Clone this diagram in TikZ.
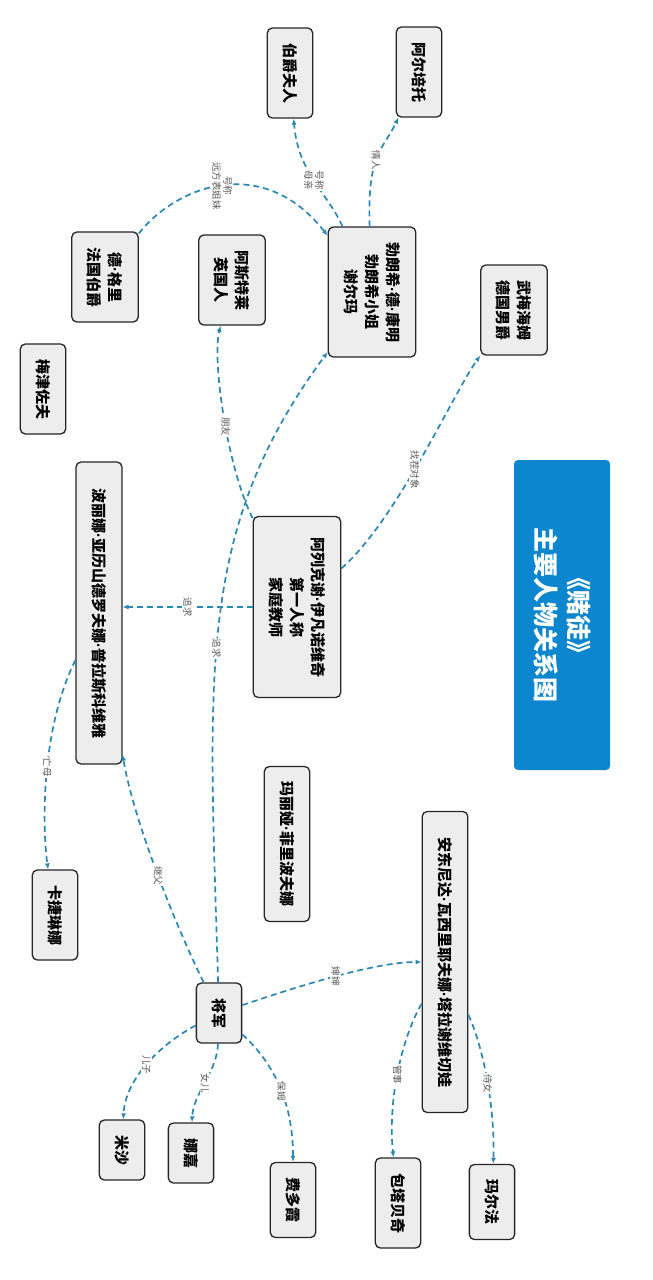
\documentclass[tikz,border=0pt]{standalone}
\usepackage{fontspec}
\newfontfamily\cjk{Noto Sans CJK SC}
\newfontfamily\latin{Liberation Sans}
\newcommand\dt{{\latin\bfseries ·}}
\usetikzlibrary{arrows.meta}
\definecolor{linkblue}{HTML}{2A88B6}
\definecolor{titleblue}{HTML}{0B86CF}
\definecolor{boxgray}{HTML}{EDEDED}

\begin{document}
\begin{tikzpicture}[x=1pt,y=-1pt,
  person/.style={draw=black!85,line width=1.3pt,fill=boxgray,rounded corners=5pt,rotate=-90,align=center,
    inner xsep=15pt,inner ysep=15.5pt,font=\cjk\bfseries\fontsize{15}{21}\selectfont},
  rel/.style={draw=linkblue,line width=1.7pt,dash pattern=on 6pt off 4pt,-{Latex[length=6pt,width=5pt]}},
  lbl/.style={rotate=-90,fill=white,inner sep=1pt,text=black!65,align=center,
    font=\cjk\fontsize{9.5}{11}\selectfont}]
\fill[white] (0,0) rectangle (653,1280);
\useasboundingbox (0,0) rectangle (653,1280);

\node[person] (countess) at (290,73) {伯爵夫人};
\node[person] (alberto) at (419,72) {阿尔培托};
\node[person] (blanche) at (372,292) {勃朗希\dt 德\dt 康明\\勃朗希小姐\\谢尔玛};
\node[person] (astley) at (232,280) {阿斯特莱\\英国人};
\node[person] (degrieux) at (105,277) {德\dt 格里\\法国伯爵};
\node[person] (mezentsov) at (43,389) {梅津佐夫};
\node[person] (baron) at (514,310) {武梅海姆\\德国男爵};
\node[person,minimum width=181pt] (alexei) at (297,607) {阿列克谢\dt 伊凡诺维奇\\第一人称\\家庭教师};
\node[person,minimum width=302pt] (polina) at (99,613) {波丽娜\dt 亚历山德罗夫娜\dt 普拉斯科维雅};
\node[person] (katerina) at (55,915) {卡捷琳娜};
\node[person] (maria) at (287,844) {玛丽娅\dt 菲里波夫娜};
\node[person,minimum width=301pt] (antonida) at (445,962) {安东尼达\dt 瓦西里耶夫娜\dt 塔拉谢维切娃};
\node[person] (general) at (219,1013) {将军};
\node[person] (misha) at (122,1150) {米沙};
\node[person] (nadya) at (191,1153) {娜嘉};
\node[person] (fedosya) at (293,1200) {费多霞};
\node[person] (bautabei) at (398,1203) {包塔贝奇};
\node[person] (marfa) at (492,1202) {玛尔法};

\node[rotate=-90,fill=titleblue,rounded corners=4pt,minimum width=310pt,minimum height=96pt,align=center,
  text=white,font=\cjk\bfseries\fontsize{25}{33}\selectfont] (title) at (562,615) {《赌徒》\\主要人物关系图};

% relations
\draw[rel] (blanche) .. controls +(-45,-100) and +(8,100) .. (countess) node[lbl,pos=.5] {号称\\母亲};
\draw[rel] (blanche) .. controls +(-5,-140) and +(-35,77) .. (alberto) node[lbl,pos=.45] {情人};
\draw[rel] (degrieux) .. controls +(70,-90) and +(-110,-140) .. (blanche) node[lbl,pos=.5] {号称\\远方表姐妹};
\draw[rel] (alexei) .. controls +(-70,-140) and +(-20,80) .. (astley) node[lbl,pos=.45] {朋友};
\draw[rel] (general) .. controls +(-10,-340) and +(-177,240) .. (blanche) node[lbl,pos=.45] {追求};
\draw[rel] (alexei.south) -- (alexei.south -| polina.north) node[lbl,pos=.5] {追求};
\draw[rel] (alexei) .. controls +(100,-87) and +(-59,80) .. (baron) node[lbl,pos=.45] {找茬对象};
\draw[rel] (general) .. controls +(-40,-80) and +(35,210) .. (polina) node[lbl,pos=.5] {继父};
\draw[rel] (polina) .. controls +(-60,120) and +(-12,-80) .. (katerina) node[lbl,pos=.45] {亡母};
\draw[rel] (general) .. controls +(80,-27) and +(-70,0) .. (antonida) node[lbl,pos=.5] {婶婶};
\draw[rel] (general) .. controls +(-60,32) and +(3,-70) .. (misha) node[lbl,pos=.5] {儿子};
\draw[rel] (general) .. controls +(-2,60) and +(2,-60) .. (nadya) node[lbl,pos=.5] {女儿};
\draw[rel] (general) .. controls +(60,55) and +(0,-90) .. (fedosya) node[lbl,pos=.5] {保姆};
\draw[rel] (antonida) .. controls +(-45,80) and +(-10,-100) .. (bautabei) node[lbl,pos=.5] {管事};
\draw[rel] (antonida) .. controls +(40,90) and +(3,-90) .. (marfa) node[lbl,pos=.5] {侍女};
\end{tikzpicture}
\end{document}
